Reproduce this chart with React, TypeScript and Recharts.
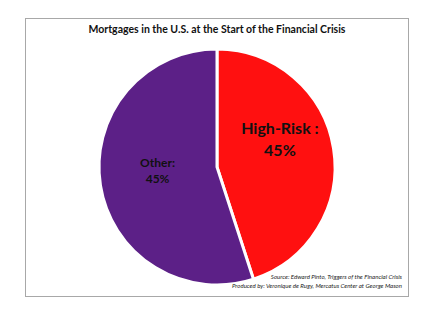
import { PieChart, Pie, Cell } from "recharts";

const categories = ["High-Risk", "Other"];
const shares = [45, 55];
const labelLines = [["High-Risk :", "45%"], ["Other:", "45%"]];
const title = "Mortgages in the U.S. at the Start of the Financial Crisis";
const sourceLines = [
  "Source:  Edward Pinto, Triggers of the Financial Crisis",
  "Produced by: Veronique de Rugy, Mercatus Center at George Mason",
];

const COLORS = ["#FF1010", "#5C2087"];
const RADIAN = Math.PI / 180;

const data = categories.map((name, i) => ({ name, value: shares[i], idx: i }));

function SliceLabel(props: any) {
  const { cx, cy, midAngle, outerRadius, index } = props;
  const big = index === 0;
  const r = outerRadius * (big ? 0.54 : 0.51);
  const x = cx + r * Math.cos(-midAngle * RADIAN);
  const y = cy + r * Math.sin(-midAngle * RADIAN) + (big ? -18 : -6);
  const size = big ? 16 : 12;
  const gap = big ? 22 : 16;
  const [l1, l2] = labelLines[index];
  return (
    <text x={x} y={y} textAnchor="middle" fill="#111" fontFamily="Lato, sans-serif" fontWeight="bold" fontSize={size}>
      <tspan x={x} dy={-gap / 2 + size * 0.35}>{l1}</tspan>
      <tspan x={x} dy={gap}>{l2}</tspan>
    </text>
  );
}

export default function App() {
  return (
    <div style={{ position: "absolute", left: 0, top: 0, width: 432, height: 315, background: "#fff", fontFamily: "Lato, sans-serif" }}>
      <div style={{ position: "absolute", left: 25, top: 18, width: 382, height: 277, border: "1px solid #a8a8a8" }} />
      <div style={{ position: "absolute", left: 25, top: 23, width: 384, textAlign: "center", fontSize: 10.5, fontWeight: 700, color: "#111" }}>
        {title}
      </div>
      <div style={{ position: "absolute", left: 0, top: 0 }}>
        <PieChart width={432} height={315}>
          <Pie
            data={data}
            dataKey="value"
            cx={212}
            cy={162}
            outerRadius={118}
            startAngle={90}
            endAngle={-270}
            stroke="#fff"
            strokeWidth={3}
            label={SliceLabel}
            labelLine={false}
            isAnimationActive={false}
          >
            {data.map((d) => (
              <Cell key={d.name} fill={COLORS[d.idx]} />
            ))}
          </Pie>
        </PieChart>
      </div>
      <div style={{ position: "absolute", right: 30, top: 272, textAlign: "right", fontSize: 6.1, fontStyle: "italic", color: "#222", lineHeight: "9px" }}>
        {sourceLines.map((s) => (
          <div key={s}>{s}</div>
        ))}
      </div>
    </div>
  );
}
